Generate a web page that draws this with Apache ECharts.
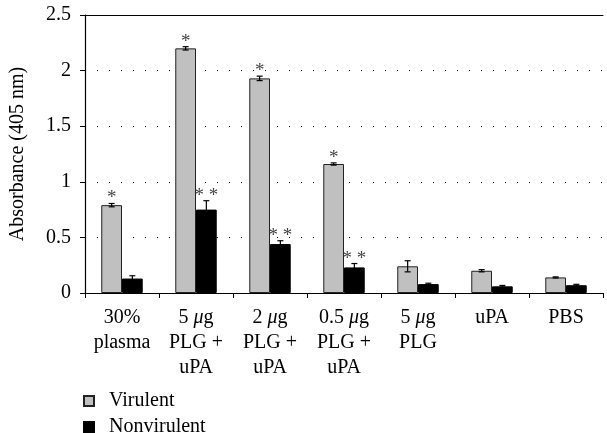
<!DOCTYPE html>
<html><head><meta charset="utf-8">
<script src="https://cdn.jsdelivr.net/npm/echarts@6/dist/echarts.min.js"></script>
<style>html,body{margin:0;padding:0;background:#fff}#c{width:607px;height:433px}</style>
</head><body><div id="c"></div>
<script>
const categories = ['30%\nplasma', '5 μg\nPLG +\nuPA', '2 μg\nPLG +\nuPA', '0.5 μg\nPLG +\nuPA', '5 μg\nPLG', 'uPA', 'PBS'];
const virulent = [0.79, 2.20, 1.93, 1.16, 0.24, 0.20, 0.14];
const virulentErr = [0.015, 0.015, 0.02, 0.01, 0.05, 0.01, 0.005];
const nonvirulent = [0.13, 0.75, 0.44, 0.23, 0.08, 0.06, 0.07];
const nonvirulentErr = [0.025, 0.08, 0.03, 0.035, 0.008, 0.008, 0.008];
const virulentMark = ['*', '*', '*', '*', '', '', ''];
const nonvirulentMark = ['', '* *', '* *', '* *', '', '', ''];
const yTicks = [0, 0.5, 1, 1.5, 2, 2.5];

const FONT = 'Liberation Serif';
const chart = echarts.init(document.getElementById('c'));

function errSeries(name, vals, errs, marks, off) {
  return {
    type: 'custom', name: name + ' err', z: 5, silent: true,
    data: vals.map((v, i) => [i, v, errs[i]]),
    renderItem: function (params, api) {
      const i = api.value(0), v = api.value(1), e = api.value(2);
      const band = api.size([1, 0])[0];
      const c = api.coord([i, v]);
      const x = c[0] + off * band;
      const top = api.coord([i, v + e])[1];
      const bot = api.coord([i, v - e])[1];
      const st = { stroke: '#000', lineWidth: 1.2 };
      const children = [
        { type: 'line', shape: { x1: x, y1: top, x2: x, y2: bot }, style: st },
        { type: 'line', shape: { x1: x - 3, y1: top, x2: x + 3, y2: top }, style: st },
        { type: 'line', shape: { x1: x - 3, y1: bot, x2: x + 3, y2: bot }, style: st }
      ];
      const m = marks[params.dataIndex];
      if (m) {
        children.push({ type: 'text', style: { text: m, x: x, y: top - 5, align: 'center', verticalAlign: 'middle', font: '19px "' + FONT + '"', fill: '#444' } });
      }
      return { type: 'group', children: children };
    }
  };
}

chart.setOption({
  animation: false,
  textStyle: { fontFamily: FONT },
  grid: { left: 84, right: 4, top: 15, bottom: 140 },
  legend: {
    orient: 'vertical', left: 78, top: 386, height: 60, itemWidth: 10, itemHeight: 10, itemGap: 6,
    icon: 'rect', data: ['Virulent', 'Nonvirulent'],
    textStyle: { fontFamily: FONT, fontSize: 20, color: '#000', padding: [0, 0, 0, 10] }
  },
  xAxis: [{
    type: 'category', data: categories,
    axisLine: { lineStyle: { color: '#000', width: 1.2 } },
    axisTick: { show: true, length: 5, lineStyle: { color: '#000' } },
    axisLabel: {
      interval: 0, margin: 12, color: '#000', fontFamily: FONT, fontSize: 20, lineHeight: 25,
      formatter: v => v.replace(/μ/g, '{i|μ}'),
      rich: { i: { fontStyle: 'italic', fontFamily: FONT, fontSize: 20, lineHeight: 25 } }
    }
  }, {
    type: 'category', data: categories, position: 'top',
    axisLine: { show: true, lineStyle: { color: '#000', width: 1.2 } },
    axisTick: { show: false }, axisLabel: { show: false }
  }],
  yAxis: {
    type: 'value', min: 0, max: 2.5, interval: 0.5,
    name: 'Absorbance (405 nm)', nameLocation: 'middle', nameGap: 57, nameRotate: 90,
    nameTextStyle: { fontFamily: FONT, fontSize: 20, color: '#000' },
    axisLine: { show: true, lineStyle: { color: '#000', width: 1.2 } },
    axisTick: { show: true, length: 5, lineStyle: { color: '#000' } },
    axisLabel: { color: '#000', fontFamily: FONT, fontSize: 20, margin: 14,
      formatter: v => { const t = yTicks.find(x => Math.abs(x - v) < 1e-9); return t === undefined ? '' : String(t); } },
    splitLine: { show: true, lineStyle: { color: '#000', type: [1, 11], width: 1 } }
  },
  series: [
    { name: 'Virulent', type: 'bar', data: virulent, barWidth: '28%', barGap: '0%',
      itemStyle: { color: '#c0c0c0', borderColor: '#222', borderWidth: 1 } },
    { name: 'Nonvirulent', type: 'bar', data: nonvirulent, barWidth: '28%', barGap: '0%',
      itemStyle: { color: '#000', borderColor: '#000', borderWidth: 1 } },
    errSeries('Virulent', virulent, virulentErr, virulentMark, -0.14),
    errSeries('Nonvirulent', nonvirulent, nonvirulentErr, nonvirulentMark, 0.14)
  ]
});
</script></body></html>
